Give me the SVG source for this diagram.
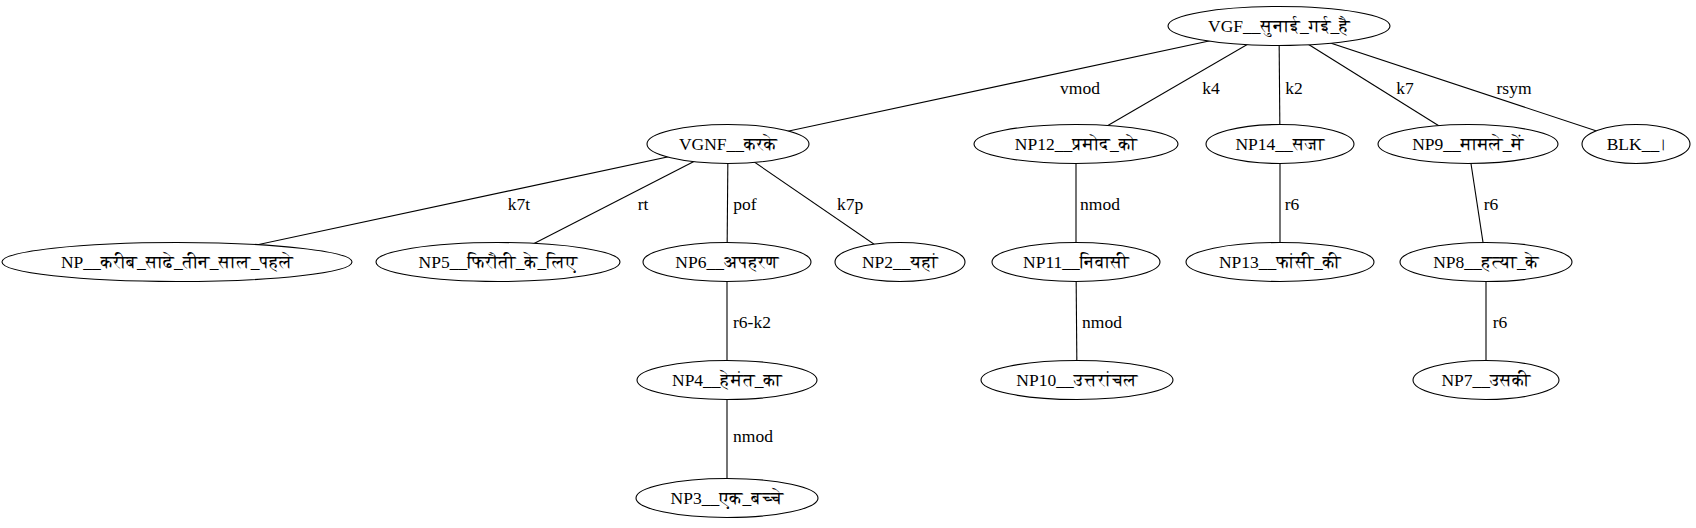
<svg xmlns="http://www.w3.org/2000/svg" width="1696" height="528" viewBox="0 0 1696 528">
<style>
.node ellipse{fill:#ffffff;stroke:#000000;stroke-width:1.1}
.node text{font-family:"Liberation Serif","FreeSerif","Noto Serif Devanagari","Lohit Devanagari","Noto Sans Devanagari",serif;font-size:17.5px;text-anchor:middle;fill:#000}
.edges line{stroke:#000000;stroke-width:1.1}
.edges text{font-family:"Liberation Serif","FreeSerif",serif;font-size:17.5px;text-anchor:middle;fill:#000}
</style>
<rect x="0" y="0" width="1696" height="528" fill="#ffffff"/>
<g id="edges" class="edges">
<line x1="1279" y1="26" x2="728" y2="144"/>
<line x1="1279" y1="26" x2="1076" y2="144"/>
<line x1="1279" y1="26" x2="1280" y2="144"/>
<line x1="1279" y1="26" x2="1468" y2="144"/>
<line x1="1279" y1="26" x2="1636" y2="144"/>
<line x1="728" y1="144" x2="177" y2="262"/>
<line x1="728" y1="144" x2="498" y2="262"/>
<line x1="728" y1="144" x2="727" y2="262"/>
<line x1="728" y1="144" x2="900" y2="262"/>
<line x1="1076" y1="144" x2="1076" y2="262"/>
<line x1="1280" y1="144" x2="1280" y2="262"/>
<line x1="1468" y1="144" x2="1486" y2="262"/>
<line x1="727" y1="262" x2="727" y2="380"/>
<line x1="1076" y1="262" x2="1077" y2="380"/>
<line x1="1486" y1="262" x2="1486" y2="380"/>
<line x1="727" y1="380" x2="727" y2="498"/>
<text x="1080" y="94">vmod</text>
<text x="1211" y="94">k4</text>
<text x="1294" y="94">k2</text>
<text x="1405" y="94">k7</text>
<text x="1514" y="94">rsym</text>
<text x="519" y="210">k7t</text>
<text x="643" y="210">rt</text>
<text x="745" y="210">pof</text>
<text x="850" y="210">k7p</text>
<text x="1100" y="210">nmod</text>
<text x="1292" y="210">r6</text>
<text x="1491" y="210">r6</text>
<text x="752" y="328">r6-k2</text>
<text x="1102" y="328">nmod</text>
<text x="1500" y="328">r6</text>
<text x="753" y="442">nmod</text>
</g>
<g id="n_vgf" class="node"><ellipse cx="1279" cy="26" rx="111" ry="19.5"/><text x="1279" y="32">VGF__सुनाई_गई_है</text></g>
<g id="n_vgnf" class="node"><ellipse cx="728" cy="144" rx="81" ry="19.5"/><text x="728" y="150">VGNF__करके</text></g>
<g id="n_np12" class="node"><ellipse cx="1076" cy="144" rx="102" ry="19.5"/><text x="1076" y="150">NP12__प्रमोद_को</text></g>
<g id="n_np14" class="node"><ellipse cx="1280" cy="144" rx="74" ry="19.5"/><text x="1280" y="150">NP14__सजा</text></g>
<g id="n_np9" class="node"><ellipse cx="1468" cy="144" rx="90" ry="19.5"/><text x="1468" y="150">NP9__मामले_में</text></g>
<g id="n_blk" class="node"><ellipse cx="1636" cy="144" rx="54" ry="19.5"/><text x="1636" y="150">BLK__।</text></g>
<g id="n_np" class="node"><ellipse cx="177" cy="262" rx="175" ry="19.5"/><text x="177" y="268">NP__करीब_साढे_तीन_साल_पहले</text></g>
<g id="n_np5" class="node"><ellipse cx="498" cy="262" rx="122" ry="19.5"/><text x="498" y="268">NP5__फिरौती_के_लिए</text></g>
<g id="n_np6" class="node"><ellipse cx="727" cy="262" rx="84" ry="19.5"/><text x="727" y="268">NP6__अपहरण</text></g>
<g id="n_np2" class="node"><ellipse cx="900" cy="262" rx="65" ry="19.5"/><text x="900" y="268">NP2__यहां</text></g>
<g id="n_np11" class="node"><ellipse cx="1076" cy="262" rx="84" ry="19.5"/><text x="1076" y="268">NP11__निवासी</text></g>
<g id="n_np13" class="node"><ellipse cx="1280" cy="262" rx="94" ry="19.5"/><text x="1280" y="268">NP13__फांसी_की</text></g>
<g id="n_np8" class="node"><ellipse cx="1486" cy="262" rx="86" ry="19.5"/><text x="1486" y="268">NP8__हत्या_के</text></g>
<g id="n_np4" class="node"><ellipse cx="727" cy="380" rx="90" ry="19.5"/><text x="727" y="386">NP4__हेमंत_का</text></g>
<g id="n_np10" class="node"><ellipse cx="1077" cy="380" rx="96" ry="19.5"/><text x="1077" y="386">NP10__उत्तरांचल</text></g>
<g id="n_np7" class="node"><ellipse cx="1486" cy="380" rx="73" ry="19.5"/><text x="1486" y="386">NP7__उसकी</text></g>
<g id="n_np3" class="node"><ellipse cx="727" cy="498" rx="91" ry="19.5"/><text x="727" y="504">NP3__एक_बच्चे</text></g>
</svg>
